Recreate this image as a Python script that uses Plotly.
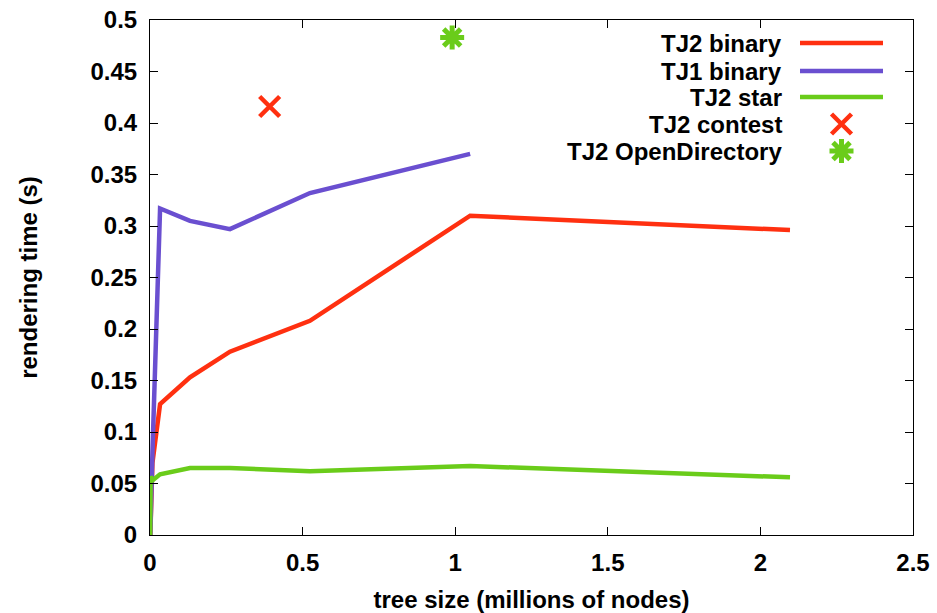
import plotly.graph_objects as go

# Data (millions of nodes, seconds)
tj2_binary_x = [0.001, 0.008, 0.033, 0.131, 0.262, 0.524, 1.049, 2.097]
tj2_binary_y = [0.0, 0.070, 0.127, 0.153, 0.178, 0.208, 0.310, 0.296]

tj1_binary_x = [0.001, 0.008, 0.033, 0.131, 0.262, 0.400, 0.524, 1.049]
tj1_binary_y = [0.0, 0.080, 0.317, 0.305, 0.297, 0.316, 0.332, 0.370]

tj2_star_x = [0.0005, 0.002, 0.008, 0.033, 0.131, 0.262, 0.524, 1.049, 2.097]
tj2_star_y = [0.0, 0.057, 0.053, 0.059, 0.065, 0.065, 0.062, 0.067, 0.056]

contest_x = [0.392]
contest_y = [0.416]

opendir_x = [0.990]
opendir_y = [0.483]

legend_labels = ["TJ2 binary", "TJ1 binary", "TJ2 star", "TJ2 contest", "TJ2 OpenDirectory"]

x_ticks = [0, 0.5, 1, 1.5, 2, 2.5]
x_tick_labels = ["0", "0.5", "1", "1.5", "2", "2.5"]
y_ticks = [0, 0.05, 0.1, 0.15, 0.2, 0.25, 0.3, 0.35, 0.4, 0.45, 0.5]
y_tick_labels = ["0", "0.05", "0.1", "0.15", "0.2", "0.25", "0.3", "0.35", "0.4", "0.45", "0.5"]

RED = "#ff3010"
PURPLE = "#6a4fd0"
GREEN = "#6acc1a"
FONT = "Liberation Sans"

fig = go.Figure()
fig.add_trace(go.Scatter(x=tj2_binary_x, y=tj2_binary_y, mode="lines",
                         line=dict(color=RED, width=4.5), showlegend=False))
fig.add_trace(go.Scatter(x=tj1_binary_x, y=tj1_binary_y, mode="lines",
                         line=dict(color=PURPLE, width=4.5), showlegend=False))
fig.add_trace(go.Scatter(x=tj2_star_x, y=tj2_star_y, mode="lines",
                         line=dict(color=GREEN, width=4.5), showlegend=False))
fig.add_trace(go.Scatter(x=contest_x, y=contest_y, mode="markers",
                         marker=dict(symbol="x-thin", size=20, color=RED,
                                     line=dict(color=RED, width=4.5)),
                         showlegend=False))
fig.add_trace(go.Scatter(x=opendir_x, y=opendir_y, mode="markers",
                         marker=dict(symbol="asterisk", size=20, color=GREEN,
                                     line=dict(color=GREEN, width=5)),
                         showlegend=False))

# Legend (drawn on a hidden overlay axis spanning the plot area, 0..1)
W, H = 937, 613
ml, mr, mt, mb = 150, 24, 20, 78
pw, ph = W - ml - mr, H - mt - mb

def px_to_ax(xp, yp):
    return (xp - ml) / pw, (H - mb - yp) / ph

legend_rows_y = [43, 71, 97, 124, 151]
text_right = 784
sample_x0, sample_x1 = 800, 883
styles = [
    ("line", RED, None),
    ("line", PURPLE, None),
    ("line", GREEN, None),
    ("marker", RED, "x-thin"),
    ("marker", GREEN, "asterisk"),
]
for label, ry, (kind, col, sym) in zip(legend_labels, legend_rows_y, styles):
    tx, ty = px_to_ax(text_right, ry)
    fig.add_annotation(x=tx, y=ty, xref="x2", yref="y2", text=label,
                       showarrow=False, xanchor="right", yanchor="middle",
                       font=dict(family=FONT, size=24, color="black", weight="bold"))
    if kind == "line":
        a0, b0 = px_to_ax(sample_x0, ry)
        a1, b1 = px_to_ax(sample_x1, ry)
        fig.add_trace(go.Scatter(x=[a0, a1], y=[b0, b1], xaxis="x2", yaxis="y2",
                                 mode="lines", line=dict(color=col, width=4.5),
                                 showlegend=False, hoverinfo="skip"))
    else:
        a, b = px_to_ax((sample_x0 + sample_x1) / 2, ry)
        fig.add_trace(go.Scatter(x=[a], y=[b], xaxis="x2", yaxis="y2",
                                 mode="markers",
                                 marker=dict(symbol=sym, size=20, color=col,
                                             line=dict(color=col, width=4.5 if sym == "x-thin" else 5)),
                                 showlegend=False, hoverinfo="skip"))

axis_common = dict(showgrid=False, zeroline=False, showline=True, linecolor="black",
                   linewidth=1, mirror="ticks", ticks="inside", ticklen=8,
                   tickcolor="black", tickwidth=1, automargin=False,
                   tickfont=dict(family=FONT, size=24, color="black", weight="bold"))

fig.update_layout(
    width=W, height=H,
    margin=dict(l=ml, r=mr, t=mt, b=mb),
    paper_bgcolor="white", plot_bgcolor="white",
    showlegend=False,
    xaxis=dict(range=[0, 2.5], tickvals=x_ticks, ticktext=x_tick_labels,
               ticklabelstandoff=6,
               title=dict(text="tree size (millions of nodes)", standoff=16,
                          font=dict(family=FONT, size=24, color="black", weight="bold")),
               **axis_common),
    yaxis=dict(range=[0, 0.5], tickvals=y_ticks, ticktext=y_tick_labels,
               ticklabelstandoff=7,
               title=dict(text="rendering time (s)", standoff=46,
                          font=dict(family=FONT, size=24, color="black", weight="bold")),
               **axis_common),
    xaxis2=dict(overlaying="x", range=[0, 1], visible=False, fixedrange=True),
    yaxis2=dict(overlaying="y", range=[0, 1], visible=False, fixedrange=True),
)

fig.write_html("out.html")
